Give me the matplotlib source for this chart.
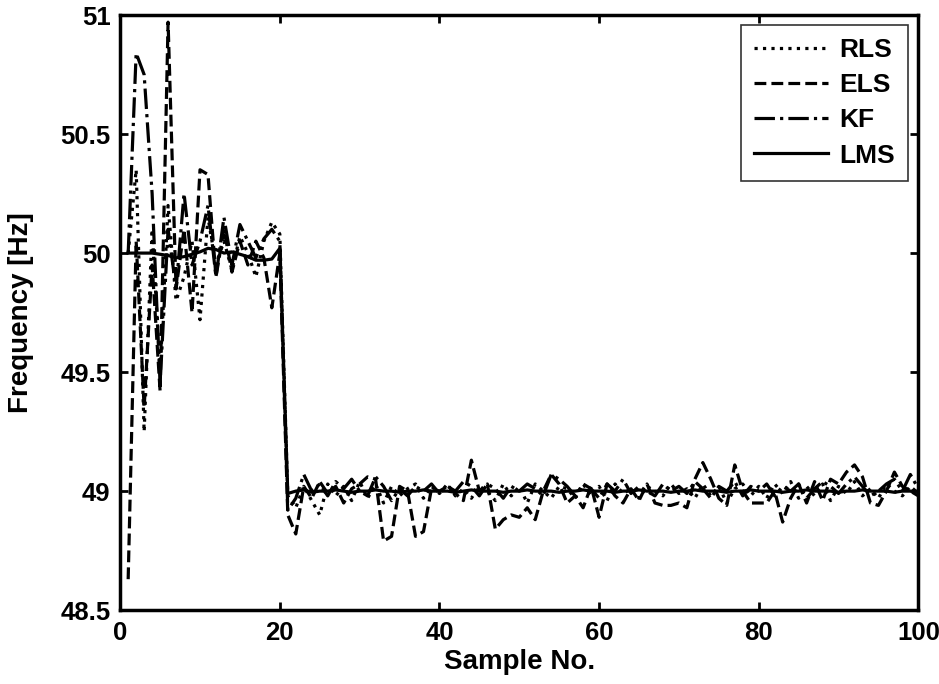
import numpy as np
import matplotlib
matplotlib.use("Agg")
import matplotlib.pyplot as plt

plt.rcParams["font.family"] = ["Liberation Sans", "DejaVu Sans"]
plt.rcParams["font.weight"] = "bold"

# Data
samples = np.arange(1, 101)

rls = [50.00, 50.35, 49.25, 50.10, 49.50, 50.20, 49.80, 49.90, 50.05, 49.72,
       50.15, 49.95, 50.05, 49.93, 50.07, 50.00, 49.90, 50.05, 50.13, 50.08,
       48.98, 48.93, 49.02, 48.96, 48.90, 49.03, 48.98, 49.02, 48.96, 49.04,
       48.97, 49.03, 48.95, 49.02, 48.98, 49.01, 49.03, 48.97, 49.02, 48.99,
       49.03, 48.98, 49.01, 48.97, 49.02, 49.00, 48.96, 49.03, 48.98, 49.02,
       48.95, 49.03, 49.00, 48.97, 49.02, 49.01, 48.97, 49.03, 48.98, 49.02,
       48.96, 49.03, 48.99, 49.01, 48.97, 49.02, 49.00, 48.98, 49.03, 48.99,
       49.01, 48.97, 49.03, 48.98, 49.02, 48.95, 49.01, 49.03, 48.98, 49.02,
       48.97, 49.03, 48.99, 49.04, 48.97, 49.02, 48.98, 49.03, 48.96, 49.02,
       48.99, 49.04, 48.98, 49.01, 48.97, 49.03, 49.00, 48.98, 49.02, 48.99]

els = [48.63, 50.05, 49.35, 49.95, 49.42, 50.97, 49.85, 50.10, 49.75, 50.35,
       50.33, 49.90, 50.10, 49.92, 50.05, 49.95, 50.05, 49.98, 49.77, 50.00,
       48.90, 48.82, 49.02, 48.97, 49.04, 48.99, 49.02, 48.95, 49.01, 49.03,
       49.06, 49.05, 48.79, 48.81, 49.02, 49.00, 48.81, 48.83, 49.01, 49.00,
       49.02, 48.99, 48.96, 49.13, 49.00, 49.03, 48.84, 48.88, 48.90, 48.89,
       48.93, 48.88, 49.00, 49.07, 49.03, 48.95, 48.98, 48.93, 49.02, 48.89,
       49.03, 48.98, 48.95, 49.01, 48.96, 49.03, 48.95, 48.94, 48.94, 48.95,
       48.93, 49.05, 49.12, 49.05, 48.97, 48.94, 49.11, 49.00, 48.95, 48.95,
       48.95, 49.00, 48.87, 48.97, 49.03, 48.95, 49.04, 48.96, 49.05, 49.03,
       49.08, 49.11, 49.06, 48.95, 48.94, 49.00, 49.08, 49.02, 49.00, 48.98]

kf = [50.00, 50.84, 50.75, 50.25, 49.45, 50.10, 49.85, 50.25, 49.95, 50.05,
      50.20, 49.90, 50.15, 49.95, 50.12, 50.05, 49.98, 50.06, 50.10, 50.05,
      48.92, 48.97, 49.07, 49.00, 49.03, 48.98, 49.04, 49.01, 49.05, 49.00,
      48.98, 49.06, 49.02, 48.96, 49.01, 48.98, 49.02, 49.00, 49.03, 48.99,
      49.02, 49.00, 49.04, 49.02, 48.98, 49.03, 49.01, 48.97, 49.02, 49.00,
      49.03, 49.01, 48.98, 49.07, 49.05, 49.02, 48.98, 49.03, 49.01, 48.97,
      49.03, 49.00, 49.05, 48.99, 49.02, 49.00, 48.98, 49.03, 49.00, 49.02,
      48.99, 49.04, 49.01, 48.97, 49.02, 49.00, 49.04, 48.98, 49.02, 49.00,
      49.03, 48.98, 49.02, 49.00, 49.03, 48.97, 49.01, 49.04, 49.02, 48.99,
      49.03, 49.06, 49.02, 48.98, 49.00, 49.03, 49.05, 49.00, 49.07, 49.01]

lms = [50.00, 50.00, 50.00, 50.00, 49.995, 49.99, 49.98, 49.985, 49.995, 50.005,
       50.02, 50.015, 50.00, 50.005, 49.995, 49.985, 49.97, 49.97, 49.975, 50.02,
       48.99, 49.00, 49.005, 48.995, 49.00, 49.00, 49.005, 49.00, 48.995, 49.00,
       49.00, 49.005, 49.00, 49.00, 48.995, 49.00, 49.00, 49.005, 49.00, 49.00,
       49.00, 48.995, 49.00, 49.005, 49.00, 49.00, 49.00, 48.995, 49.00, 49.00,
       49.005, 49.00, 49.00, 49.00, 48.995, 49.00, 49.00, 49.005, 49.00, 49.00,
       49.00, 48.995, 49.00, 49.00, 49.005, 49.00, 49.00, 49.00, 48.995, 49.00,
       49.00, 49.005, 49.00, 49.00, 49.00, 48.995, 49.00, 49.00, 49.005, 49.00,
       49.00, 49.00, 48.995, 49.00, 49.00, 49.005, 49.00, 49.00, 49.00, 48.995,
       49.00, 49.00, 49.005, 49.00, 49.00, 49.00, 48.995, 49.00, 49.00, 49.00]

xticks = [0, 20, 40, 60, 80, 100]
yticks = [48.5, 49, 49.5, 50, 50.5, 51]
ytick_labels = ["48.5", "49", "49.5", "50", "50.5", "51"]

fig = plt.figure(figsize=(9.39, 6.84), dpi=100)
ax = fig.add_axes([0.128, 0.108, 0.85, 0.87])

lw = 2.3
ax.plot(samples, rls, color="k", linestyle=":", linewidth=lw, label="RLS")
ax.plot(samples, els, color="k", linestyle="--", linewidth=lw, label="ELS")
ax.plot(samples, kf, color="k", linestyle="-.", linewidth=lw, label="KF")
ax.plot(samples, lms, color="k", linestyle="-", linewidth=lw, label="LMS")

ax.set_xlim(0, 100)
ax.set_ylim(48.5, 51)
ax.set_xticks(xticks)
ax.set_yticks(yticks)
ax.set_yticklabels(ytick_labels)
ax.tick_params(direction="in", top=True, right=True, length=6, width=2,
               labelsize=18.5)
ax.tick_params(axis="y", pad=7)
ax.tick_params(axis="x", pad=8)
for s in ax.spines.values():
    s.set_linewidth(2.5)

ax.set_xlabel("Sample No.", fontsize=20, fontweight="bold")
ax.set_ylabel("Frequency [Hz]", fontsize=20, fontweight="bold")
ax.xaxis.set_label_coords(0.5, -0.066)
ax.yaxis.set_label_coords(-0.108, 0.5)

leg = ax.legend(loc="upper right", fontsize=19, frameon=True, fancybox=False,
                edgecolor="k", handlelength=2.8, handletextpad=0.45,
                borderaxespad=0.38, labelspacing=0.42, borderpad=0.5)
leg.get_frame().set_linewidth(1.2)

fig.savefig("out.png", dpi=100)
